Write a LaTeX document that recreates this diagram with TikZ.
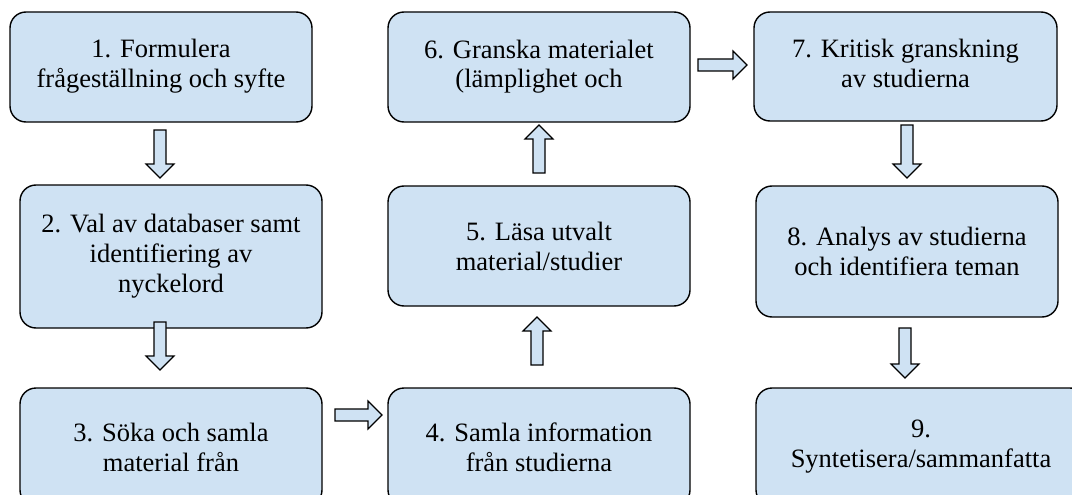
\documentclass[tikz,border=0pt]{standalone}
\usepackage{fontspec}
\setmainfont{Liberation Serif}
\usetikzlibrary{calc}
\definecolor{boxfill}{HTML}{CFE2F3}
\tikzset{
  stepbox/.style={draw=black, line width=1.4pt, fill=boxfill, rounded corners=16pt,
    align=center, inner sep=0pt, font=\fontsize{26.5}{30}\selectfont},
  blockarrow/.style={draw=black, line width=1.2pt, fill=boxfill, line join=miter}
}
\newcommand{\barrow}[2]{%
  \path ($(#2)!14pt!(#1)$) coordinate (H);
  \draw[blockarrow] ($(#1)!6pt!90:(#2)$) -- ($(H)!6pt!-90:(#1)$) -- ($(H)!14pt!-90:(#1)$)
    -- (#2) -- ($(H)!14pt!90:(#1)$) -- ($(H)!6pt!90:(#1)$) -- ($(#1)!6pt!-90:(#2)$) -- cycle;
}
\begin{document}
\begin{tikzpicture}[x=1pt,y=-1pt]
\clip (0,0) rectangle (1072,495);
\fill[white] (0,0) rectangle (1072,495);
% boxes
\node[stepbox, minimum width=302pt, minimum height=110pt] (b1) at (161,67)
  {\raisebox{-5pt}{\begin{tabular}{@{}c@{}}1. Formulera\\frågeställning och syfte\end{tabular}}};
\node[stepbox, minimum width=302pt, minimum height=143pt] (b2) at (171,256.5)
  {2. Val av databaser samt\\identifiering av\\nyckelord};
\node[stepbox, minimum width=302pt, minimum height=118pt] (b3) at (171,447)
  {3. Söka och samla\\material från};
\node[stepbox, minimum width=302pt, minimum height=118pt] (b4) at (539,447)
  {4. Samla information\\från studierna};
\node[stepbox, minimum width=302pt, minimum height=120pt] (b5) at (539,246)
  {5. Läsa utvalt\\material/studier};
\node[stepbox, minimum width=302pt, minimum height=110pt] (b6) at (539,67)
  {\raisebox{-3pt}{\begin{tabular}{@{}c@{}}6. Granska materialet\\(lämplighet och\end{tabular}}};
\node[stepbox, minimum width=303pt, minimum height=109pt] (b7) at (905.5,66.5)
  {\raisebox{-4pt}{\begin{tabular}{@{}c@{}}7. Kritisk granskning\\av studierna\end{tabular}}};
\node[stepbox, minimum width=302pt, minimum height=131pt] (b8) at (907,251.5)
  {8. Analys av studierna\\och identifiera teman};
\node[stepbox, minimum width=330pt, minimum height=118pt, text width=302pt] (b9) at (921,447)
  {9.\\Syntetisera/sammanfatta};
% arrow end points
\coordinate (a1s) at (160,130); \coordinate (a1e) at (160,178);
\coordinate (a2s) at (160,322); \coordinate (a2e) at (160,370);
\coordinate (a3s) at (335,415); \coordinate (a3e) at (382,415);
\coordinate (a4s) at (537,365); \coordinate (a4e) at (537,317);
\coordinate (a5s) at (539,173); \coordinate (a5e) at (539,125);
\coordinate (a6s) at (698,65);  \coordinate (a6e) at (747,65);
\coordinate (a7s) at (907,125); \coordinate (a7e) at (907,178);
\coordinate (a8s) at (905,328); \coordinate (a8e) at (905,378);
\barrow{a1s}{a1e}
\barrow{a2s}{a2e}
\barrow{a3s}{a3e}
\barrow{a4s}{a4e}
\barrow{a5s}{a5e}
\barrow{a6s}{a6e}
\barrow{a7s}{a7e}
\barrow{a8s}{a8e}
\end{tikzpicture}
\end{document}
